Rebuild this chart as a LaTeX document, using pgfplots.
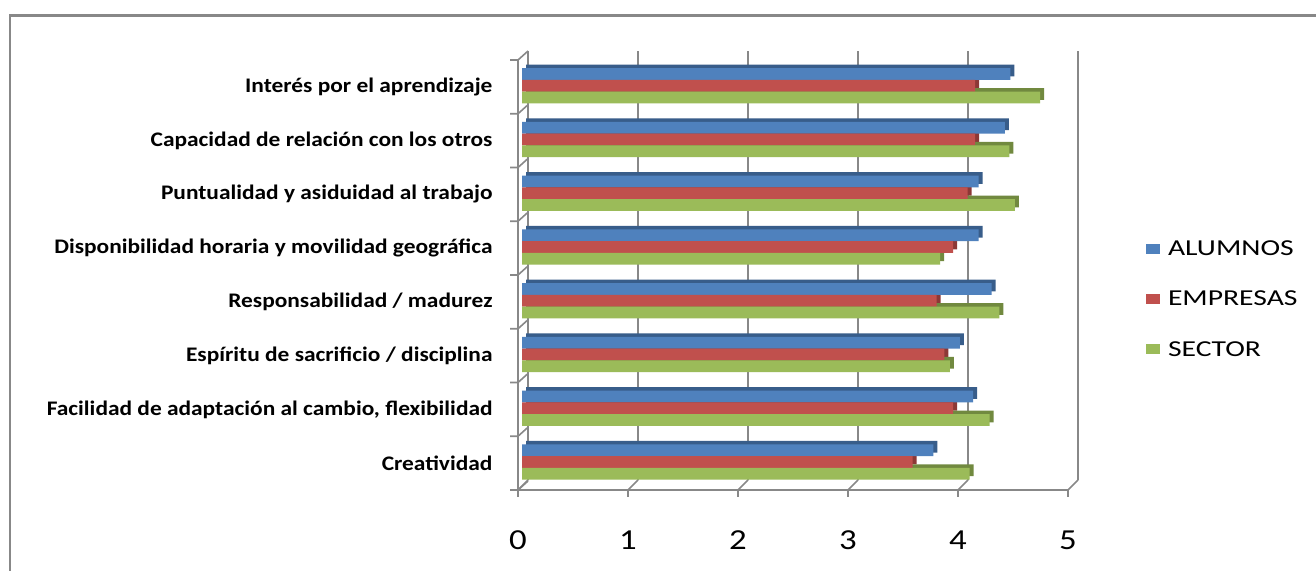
\documentclass[border=0pt]{standalone}
\usepackage{fontspec}
\setmainfont{Carlito}
\newfontfamily\catfont{Carlito}[FakeStretch=1.13]
\newfontfamily\legfont{Carlito}[FakeStretch=1.3]
\newfontfamily\tickfont{Carlito}[FakeStretch=1.2]
\usepackage{pgfplots}
\usepackage{pgfplotstable}
\pgfplotsset{compat=1.18}
\definecolor{cA}{HTML}{4F81BD}\definecolor{cAd}{HTML}{385D8A}
\definecolor{cE}{HTML}{C0504D}\definecolor{cEd}{HTML}{8C3836}
\definecolor{cS}{HTML}{9BBB59}\definecolor{cSd}{HTML}{71893F}
\definecolor{gridc}{HTML}{888888}
\tikzset{gl/.style={gridc, line width=1.6pt}}
\pgfplotstableread{
y A E S
0 3.74 3.55 4.07
1 4.10 3.92 4.25
2 3.98 3.84 3.89
3 4.27 3.77 4.34
4 4.15 3.92 3.80
5 4.15 4.05 4.48
6 4.39 4.12 4.43
7 4.44 4.12 4.71
}\data
\begin{document}
\begin{tikzpicture}[x=1pt,y=1pt]
\useasboundingbox (0,0) rectangle (1316,570);
\fill[white] (0,0) rectangle (1316,570);
\draw[gridc, line width=2.5pt] (10,-20) |- (1340,554.5);
\begin{axis}[
  at={(518pt,80pt)}, anchor=south west,
  scale only axis, width=550pt, height=430pt,
  xmin=0, xmax=5, ymin=-0.5, ymax=7.5,
  clip=false,
  axis line style={draw=none},
  major tick length=0pt,
  xtick={0,...,5}, ytick={0,...,7},
  yticklabels={Creatividad,
    {Facilidad de adaptación al cambio, flexibilidad},
    Espíritu de sacrificio / disciplina,
    Responsabilidad / madurez,
    Disponibilidad horaria y movilidad geográfica,
    Puntualidad y asiduidad al trabajo,
    Capacidad de relación con los otros,
    Interés por el aprendizaje},
  yticklabel style={anchor=east, xshift=-22pt, font=\catfont\bfseries\fontsize{20.7}{24}\selectfont},
  xticklabel style={anchor=north, yshift=-37pt, font=\tickfont\fontsize{29}{34}\selectfont},
  /pgf/number format/assume math mode=true,
  legend style={at={(1.136,0.444)}, anchor=west, draw=none, fill=none,
    font=\legfont\fontsize{22.8}{27}\selectfont, row sep=30pt,
    nodes={inner ysep=2pt, inner xsep=8pt}},
  legend cell align=left,
]
\pgfplotsinvokeforeach{0,...,5}{
  \draw[gl] ([xshift=10pt,yshift=10pt]axis cs:#1,-0.5) -- ([xshift=10pt,yshift=9pt]axis cs:#1,7.5);
  \draw[gl] (axis cs:#1,-0.5) -- ([xshift=10pt,yshift=10pt]axis cs:#1,-0.5);
  \draw[gl] (axis cs:#1,-0.5) -- ([yshift=-7pt]axis cs:#1,-0.5);
}
\draw[gl] (axis cs:0,-0.5) -- (axis cs:5,-0.5);
\draw[gl] (axis cs:0,-0.5) -- (axis cs:0,7.5);
\pgfplotsinvokeforeach{-0.5,0.5,1.5,2.5,3.5,4.5,5.5,6.5,7.5}{
  \draw[gl] ([xshift=-8pt]axis cs:0,#1) -- (axis cs:0,#1) -- ([xshift=10pt,yshift=9pt]axis cs:0,#1);
}
\addplot[xbar, bar width=11.75pt, bar shift=13pt, fill=cAd, draw=none, xshift=8pt, yshift=3.5pt, forget plot] table[x=A,y=y]{\data};
\addplot[xbar, bar width=11.75pt, bar shift=1.25pt, fill=cEd, draw=none, xshift=8pt, yshift=3.5pt, forget plot] table[x=E,y=y]{\data};
\addplot[xbar, bar width=11.75pt, bar shift=-10.5pt, fill=cSd, draw=none, xshift=8pt, yshift=3.5pt, forget plot] table[x=S,y=y]{\data};
\addplot[xbar, bar width=11.75pt, bar shift=13pt, fill=cA, draw=none, xshift=4pt,
  legend image code/.code={\fill[cA] (0pt,-5pt) rectangle (14pt,5pt);}] table[x=A,y=y]{\data};
\addlegendentry{ALUMNOS}
\addplot[xbar, bar width=11.75pt, bar shift=1.25pt, fill=cE, draw=none, xshift=4pt,
  legend image code/.code={\fill[cE] (0pt,-5pt) rectangle (14pt,5pt);}] table[x=E,y=y]{\data};
\addlegendentry{EMPRESAS}
\addplot[xbar, bar width=11.75pt, bar shift=-10.5pt, fill=cS, draw=none, xshift=4pt,
  legend image code/.code={\fill[cS] (0pt,-5pt) rectangle (14pt,5pt);}] table[x=S,y=y]{\data};
\addlegendentry{SECTOR}
\end{axis}
\end{tikzpicture}
\end{document}
